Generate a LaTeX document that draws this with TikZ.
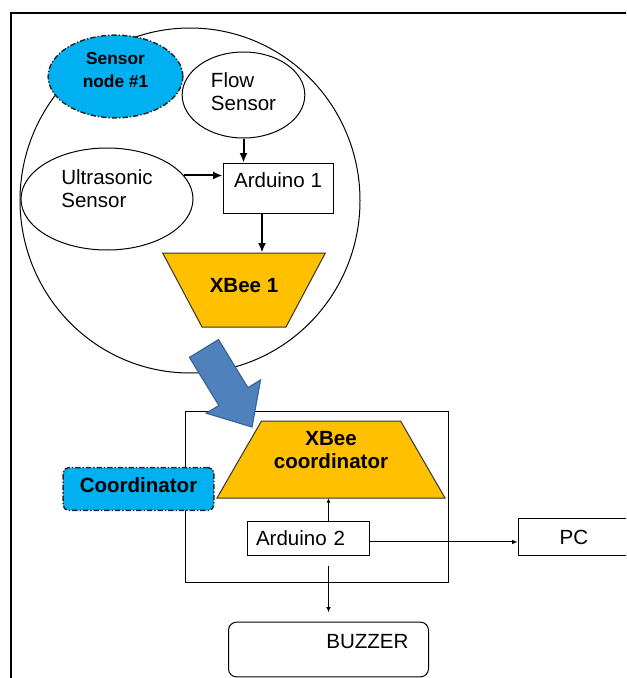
\documentclass[tikz,border=0pt]{standalone}
\usepackage{fontspec}
\setmainfont{Liberation Sans}
\usetikzlibrary{shapes.geometric,arrows.meta}

\definecolor{tagblue}{RGB}{0,176,240}
\definecolor{xbeeorange}{RGB}{255,192,0}
\definecolor{arrowblue}{RGB}{79,129,189}
\definecolor{arrowedge}{RGB}{58,100,150}

\tikzset{every picture/.style={line width=0.75pt}}
\tikzset{
  txt/.style={font=\fontsize{15.4}{17.5}\selectfont},
  btxt/.style={font=\bfseries\fontsize{15.4}{17.5}\selectfont},
  sensor/.style={draw, ellipse, fill=white, inner sep=0pt, align=left, txt},
  unit/.style={draw, rectangle, fill=white, inner sep=0pt, txt},
  xbee/.style={draw=black!80, fill=xbeeorange, trapezium,
    trapezium stretches body, inner sep=0pt, align=center, btxt},
  tag/.style={draw=black!85, fill=tagblue, line width=1.1pt,
    dash pattern=on 4pt off 1.5pt on 1pt off 1.5pt, btxt},
  boldarrow/.style={-{Latex[length=7pt,width=6pt]}, line width=1.5pt},
  slimarrow/.style={-{Latex[length=4pt,width=3.5pt]}, line width=0.75pt},
}

\begin{document}
\begin{tikzpicture}[x=0.75pt,y=0.75pt,yscale=-1]
\useasboundingbox (0,0) rectangle (626,678);
\clip (0,0) rectangle (626,678);

%Frame
\draw [line width=1.1pt] (11,700) -- (11,13) -- (650,13) ;

%Sensor node ring
\node [draw, ellipse, minimum width=255pt, minimum height=258.75pt] (ring) at (190,200.5) {};

%Sensors
\node [sensor, minimum width=92pt, minimum height=64.5pt, text height=28.5pt, text depth=4.8pt] (flow) at (243.5,95) {Flow\\Sensor};
\node [sensor, minimum width=129pt, minimum height=76.5pt, text height=28.5pt, text depth=15.3pt] (ultra) at (107,199) {Ultrasonic\\Sensor};

%Sensor node tag
\node [tag, ellipse, minimum width=101pt, minimum height=62pt, inner sep=0pt, align=center,
  font=\bfseries\fontsize{13}{17.5}\selectfont, text height=27pt, text depth=10.7pt] (nodetag) at (115.5,76.5) {Sensor\\node \#1};

%Arduino 1
\node [unit, minimum width=82.5pt, minimum height=37.5pt, text height=11pt, text depth=12.3pt] (ard1) at (278,188) {Arduino 1};

%XBee 1
\node [xbee, shape border rotate=180, trapezium left angle=62, trapezium right angle=62, minimum width=122pt,
  text height=29.7pt, text depth=25.8pt] (xbee1) at (244,290) {XBee 1};

\draw [boldarrow] (flow.south) -- (flow.south |- ard1.north) ;
\draw [boldarrow] (ultra.17) -- (ultra.17 -| ard1.west) ;
\draw [boldarrow] ([xshift=-12pt]ard1.south) -- ([xshift=-12pt]ard1.south |- xbee1.north) ;

%Coordinator box
\node [draw, rectangle, minimum width=197.25pt, minimum height=128.25pt] (coordbox) at (316.5,496.5) {};

%XBee coordinator
\node [xbee, trapezium left angle=60, trapezium right angle=60, minimum width=171pt,
  text height=35.5pt, text depth=22.25pt] (xbeec) at (331,459.5) {XBee\\coordinator};

%Coordinator tag
\node [tag, rectangle, rounded corners=4pt, minimum width=113pt, minimum height=32pt, inner sep=0pt,
  text height=11pt, text depth=5.5pt] (coordtag) at (138.5,489) {Coordinator};

%Arduino 2, PC, buzzer
\node [unit, minimum width=91.5pt, minimum height=26pt, text width=78pt, inner xsep=6.75pt, align=left] (ard2) at (308,538.5) {Arduino 2};
\node [unit, minimum width=84pt, minimum height=27.75pt] (pc) at (574,537) {PC};
\node [unit, rounded corners=6pt, minimum width=150pt, minimum height=41pt, text width=120pt, inner xsep=15pt,
  align=right, text height=11pt, text depth=12.3pt] (buzz) at (328.5,649.5) {BUZZER};

\draw [-{Latex[length=3pt,width=3pt]}] (ard2.north -| buzz.north) -- (xbeec.south -| buzz.north) ;
\draw [slimarrow] ([yshift=2.6pt]ard2.east) -- ([yshift=2.6pt]ard2.east -| pc.west) ;
\draw [slimarrow] ([yshift=7pt]ard2.south -| buzz.north) -- ([yshift=-7pt]buzz.north) ;

%Block arrow
\draw [fill=arrowblue, draw=arrowedge, line width=0.9pt] (189.5,357.4) -- (218.9,405.5) -- (206.3,413.2) -- (252,427) -- (260.5,380) -- (247.9,387.7) -- (218.5,339.6) -- cycle ;

\end{tikzpicture}
\end{document}
